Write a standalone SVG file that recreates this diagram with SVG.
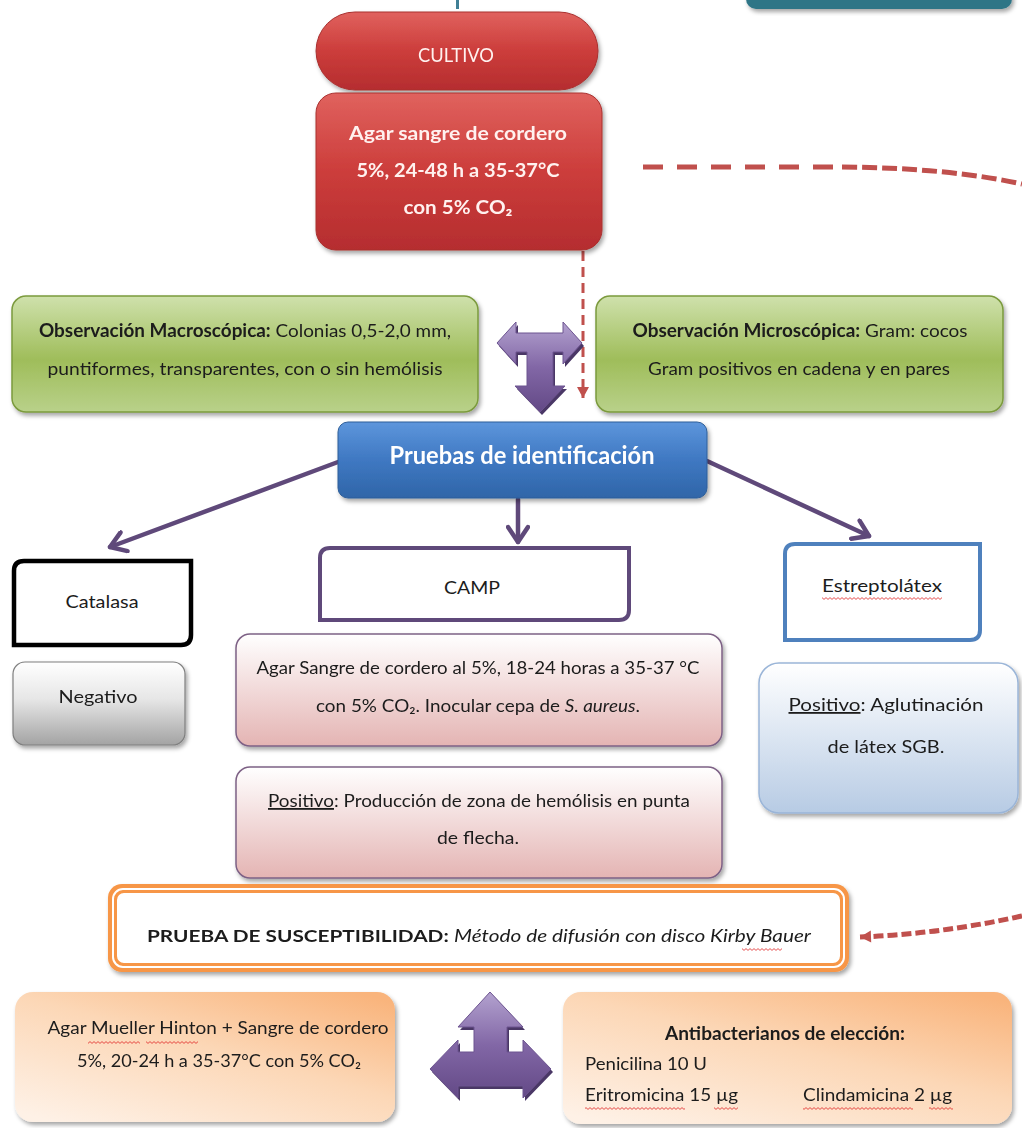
<svg xmlns="http://www.w3.org/2000/svg" width="1022" height="1128" viewBox="0 0 1022 1128">
  <defs>
    <style>
      text { font-family: Lato, "Open Sans", "DejaVu Sans", sans-serif; fill: #1c1c1c; }
      .c { text-anchor: middle; }
      .b { font-weight: bold; }
      .i { font-style: italic; }
      .t18 { font-size: 18px; }
      .t17 { font-size: 17px; }
      .light { fill: #fff1ef; }
      .tp { fill: none; stroke: #5f497a; stroke-width: 4.5; stroke-linecap: round; }
      .dash { fill: none; stroke: #c0504d; stroke-width: 5; }
    </style>
    <filter id="sh" x="-10%" y="-10%" width="125%" height="130%">
      <feDropShadow dx="2" dy="3" stdDeviation="2" flood-color="#000" flood-opacity="0.35"/>
    </filter>
    <linearGradient id="gRed" x1="0" y1="0" x2="0" y2="1">
      <stop offset="0" stop-color="#e0625e"/>
      <stop offset="0.5" stop-color="#cc3d3b"/>
      <stop offset="1" stop-color="#b52d2f"/>
    </linearGradient>
    <linearGradient id="gGreen" x1="0" y1="0" x2="0" y2="1">
      <stop offset="0" stop-color="#cfe1ac"/>
      <stop offset="0.55" stop-color="#9fbd5a"/>
      <stop offset="1" stop-color="#b9d18a"/>
    </linearGradient>
    <linearGradient id="gBlue" x1="0" y1="0" x2="0" y2="1">
      <stop offset="0" stop-color="#5d96dc"/>
      <stop offset="0.5" stop-color="#3f78c2"/>
      <stop offset="1" stop-color="#2f65a8"/>
    </linearGradient>
    <linearGradient id="gGray" x1="0" y1="0" x2="0" y2="1">
      <stop offset="0" stop-color="#ffffff"/>
      <stop offset="0.45" stop-color="#e6e6e6"/>
      <stop offset="1" stop-color="#a3a3a3"/>
    </linearGradient>
    <linearGradient id="gPink" x1="0" y1="0" x2="0" y2="1">
      <stop offset="0" stop-color="#ffffff"/>
      <stop offset="1" stop-color="#e4b4b3"/>
    </linearGradient>
    <linearGradient id="gSky" x1="0" y1="0" x2="0" y2="1">
      <stop offset="0" stop-color="#ffffff"/>
      <stop offset="1" stop-color="#b7cbe4"/>
    </linearGradient>
    <linearGradient id="gPeach" x1="0.1" y1="1" x2="0.9" y2="0">
      <stop offset="0" stop-color="#fef1e6"/>
      <stop offset="0.55" stop-color="#fcd7b6"/>
      <stop offset="1" stop-color="#f9b47c"/>
    </linearGradient>
    <linearGradient id="gPurple" x1="0" y1="0" x2="0" y2="1">
      <stop offset="0" stop-color="#b3a2cf"/>
      <stop offset="0.5" stop-color="#8267a6"/>
      <stop offset="1" stop-color="#634986"/>
    </linearGradient>
    <marker id="openHead" viewBox="-20 -12 24 24" markerWidth="24" markerHeight="24" refX="0" refY="0" orient="auto" markerUnits="userSpaceOnUse">
      <path d="M-15 -10 L0 0 L-15 10" fill="none" stroke="#5f497a" stroke-width="4.5" stroke-linecap="round" stroke-linejoin="round"/>
    </marker>
    <marker id="redHead" viewBox="-12 -8 14 16" markerWidth="14" markerHeight="16" refX="0" refY="0" orient="auto" markerUnits="userSpaceOnUse">
      <path d="M-11 -6 L0 0 L-11 6 Z" fill="#c0504d"/>
    </marker>
    <pattern id="squig" width="4" height="3" patternUnits="userSpaceOnUse">
      <path d="M0 2.4 L2 0.6 L4 2.4" fill="none" stroke="#e02424" stroke-width="0.8"/>
    </pattern>
  </defs>

  <rect width="1022" height="1128" fill="#ffffff"/>

  <!-- partly visible items at the top edge -->
  <g id="top-edge">
    <rect x="456" y="0" width="3" height="9" fill="#3f7f95"/>
    <rect x="746" y="-22" width="266" height="31" rx="10" fill="#2f7586" filter="url(#sh)"/>
  </g>

  <!-- connectors -->
  <g id="connectors">
    <path class="dash" d="M643 167 H842" stroke-dasharray="20 14"/>
    <path class="dash" d="M842 167 Q950 168 1022 184" stroke-dasharray="15 5"/>
    <path class="dash" d="M1022 916 Q940 934 860 937" stroke-dasharray="10 4" marker-end="url(#redHead)"/>
    <path d="M583 251 V398" fill="none" stroke="#c0504d" stroke-width="3" stroke-dasharray="10 6" marker-end="url(#redHead)"/>
    <line class="tp" x1="338" y1="462" x2="110" y2="547" marker-end="url(#openHead)"/>
    <line class="tp" x1="518" y1="499" x2="518" y2="542" marker-end="url(#openHead)"/>
    <line class="tp" x1="707" y1="461" x2="869" y2="536" marker-end="url(#openHead)"/>
  </g>

  <g id="cultivo" filter="url(#sh)">
    <rect x="316" y="12" width="282" height="78" rx="39" fill="url(#gRed)" stroke="#a9302f" stroke-width="1"/>
    <text class="c light" x="456" y="62" font-size="19" textLength="76" lengthAdjust="spacingAndGlyphs">CULTIVO</text>
  </g>

  <g id="agar-sangre" filter="url(#sh)">
    <rect x="316" y="93" width="286" height="157" rx="20" fill="url(#gRed)" stroke="#a9302f" stroke-width="1"/>
    <text class="c b light" x="458" y="140" font-size="19" textLength="218" lengthAdjust="spacingAndGlyphs">Agar sangre de cordero</text>
    <text class="c b light" x="458" y="177" font-size="19" textLength="203" lengthAdjust="spacingAndGlyphs">5%, 24-48 h a 35-37°C</text>
    <text class="c b light" x="458" y="214" font-size="19" textLength="109" lengthAdjust="spacingAndGlyphs">con 5% CO₂</text>
  </g>

  <g id="macro" filter="url(#sh)">
    <rect x="12" y="296" width="466" height="116" rx="14" fill="url(#gGreen)" stroke="#7b9a3d" stroke-width="1.5"/>
    <text class="c t18" x="245" y="337" textLength="412" lengthAdjust="spacingAndGlyphs"><tspan class="b">Observación Macroscópica:</tspan> Colonias 0,5-2,0 mm,</text>
    <text class="c t18" x="245" y="375" textLength="395" lengthAdjust="spacingAndGlyphs">puntiformes, transparentes, con o sin hemólisis</text>
  </g>

  <g id="micro" filter="url(#sh)">
    <rect x="596" y="296" width="407" height="116" rx="14" fill="url(#gGreen)" stroke="#7b9a3d" stroke-width="1.5"/>
    <text class="c t18" x="800" y="337" textLength="335" lengthAdjust="spacingAndGlyphs"><tspan class="b">Observación Microscópica:</tspan> Gram: cocos</text>
    <text class="c t18" x="799" y="375" textLength="302" lengthAdjust="spacingAndGlyphs">Gram positivos en cadena y en pares</text>
  </g>

  <g id="split-arrow-top">
    <polygon points="499,346 518,325 518,336 565,336 565,325 584,346 565,367 565,355 555,355 555,389 567,389 542,415 517,389 529,389 529,355 518,355 518,367" fill="#4a3766"/>
    <polygon points="497,343 516,322 516,333 563,333 563,322 582,343 563,364 563,352 553,352 553,386 565,386 540,412 515,386 527,386 527,352 516,352 516,364" fill="url(#gPurple)" stroke="#6d5490" stroke-width="1"/>
  </g>

  <g id="pruebas" filter="url(#sh)">
    <rect x="338" y="422" width="369" height="76" rx="10" fill="url(#gBlue)" stroke="#2f5f99" stroke-width="1"/>
    <text class="c b" x="522" y="464" font-size="24" fill="#ffffff" style="fill:#ffffff" textLength="265" lengthAdjust="spacingAndGlyphs">Pruebas de identificación</text>
  </g>

  <g id="catalasa">
    <path d="M24 561 H191 V635 Q191 645 181 645 H14 V571 Q14 561 24 561 Z" fill="#ffffff" stroke="#000000" stroke-width="4.5"/>
    <text class="c t18" x="102" y="608" textLength="73" lengthAdjust="spacingAndGlyphs">Catalasa</text>
  </g>

  <g id="camp">
    <path d="M330 548 H629 V610 Q629 620 619 620 H320 V558 Q320 548 330 548 Z" fill="#ffffff" stroke="#5f497a" stroke-width="4"/>
    <text class="c t18" x="472" y="594" textLength="56" lengthAdjust="spacingAndGlyphs">CAMP</text>
  </g>

  <g id="estreptolatex">
    <path d="M795 544 H980 V630 Q980 640 970 640 H785 V554 Q785 544 795 544 Z" fill="#ffffff" stroke="#4f81bd" stroke-width="4"/>
    <text class="c t18" x="882" y="592" textLength="120" lengthAdjust="spacingAndGlyphs">Estreptolátex</text>
  </g>

  <g id="negativo" filter="url(#sh)">
    <rect x="13" y="662" width="172" height="83" rx="12" fill="url(#gGray)" stroke="#7f7f7f" stroke-width="1.2"/>
    <text class="c t18" x="98" y="703" textLength="79" lengthAdjust="spacingAndGlyphs">Negativo</text>
  </g>

  <g id="camp-medio" filter="url(#sh)">
    <rect x="236" y="634" width="486" height="112" rx="14" fill="url(#gPink)" stroke="#7d6185" stroke-width="1.5"/>
    <text class="c t18" x="478" y="674" textLength="443" lengthAdjust="spacingAndGlyphs">Agar Sangre de cordero al 5%, 18-24 horas a 35-37 °C</text>
    <text class="c t18" x="478" y="712" textLength="324" lengthAdjust="spacingAndGlyphs">con 5% CO₂. Inocular cepa de <tspan class="i">S. aureus</tspan>.</text>
  </g>

  <g id="camp-positivo" filter="url(#sh)">
    <rect x="236" y="767" width="486" height="111" rx="14" fill="url(#gPink)" stroke="#7d6185" stroke-width="1.5"/>
    <text class="c t18" x="479" y="807" textLength="422" lengthAdjust="spacingAndGlyphs"><tspan text-decoration="underline">Positivo</tspan>: Producción de zona de hemólisis en punta</text>
    <text class="c t18" x="478" y="844" textLength="82" lengthAdjust="spacingAndGlyphs">de flecha.</text>
  </g>

  <g id="latex-positivo" filter="url(#sh)">
    <rect x="759" y="663" width="259" height="150" rx="20" fill="url(#gSky)" stroke="#9ab5d8" stroke-width="1.5"/>
    <text class="c t18" x="886" y="711" textLength="195" lengthAdjust="spacingAndGlyphs"><tspan text-decoration="underline">Positivo</tspan>: Aglutinación</text>
    <text class="c t18" x="886" y="753" textLength="117" lengthAdjust="spacingAndGlyphs">de  látex SGB.</text>
  </g>

  <g id="susceptibilidad" filter="url(#sh)">
    <rect x="108" y="884" width="741" height="88" rx="14" fill="#f79646"/>
    <rect x="113" y="889" width="731" height="78" rx="10" fill="none" stroke="#ffffff" stroke-width="2"/>
    <rect x="116" y="892" width="725" height="72" rx="8" fill="#ffffff" stroke="#f79646" stroke-width="2"/>
    <text class="t17" x="147" y="942" textLength="664" lengthAdjust="spacingAndGlyphs"><tspan class="b">PRUEBA DE SUSCEPTIBILIDAD:</tspan> <tspan class="i">Método de difusión con disco Kirby Bauer</tspan></text>
  </g>

  <g id="mueller-hinton" filter="url(#sh)">
    <rect x="15" y="992" width="380" height="130" rx="18" fill="url(#gPeach)"/>
    <text class="c t18" x="218" y="1034" textLength="341" lengthAdjust="spacingAndGlyphs">Agar Mueller Hinton + Sangre de cordero</text>
    <text class="c t18" x="219" y="1067" textLength="284" lengthAdjust="spacingAndGlyphs">5%, 20-24 h a 35-37°C con 5% CO₂</text>
  </g>

  <g id="split-arrow-bottom">
    <polygon points="492,995 525,1030 509,1030 509,1055 525,1055 525,1043 553,1072 525,1101 525,1089 460,1089 460,1101 432,1072 460,1043 460,1055 476,1055 476,1030 460,1030" fill="#4a3766"/>
    <polygon points="490,992 523,1027 507,1027 507,1052 523,1052 523,1040 551,1069 523,1098 523,1086 458,1086 458,1098 430,1069 458,1040 458,1052 474,1052 474,1027 458,1027" fill="url(#gPurple)" stroke="#6d5490" stroke-width="1"/>
  </g>

  <g id="antibacterianos" filter="url(#sh)">
    <rect x="563" y="992" width="449" height="132" rx="18" fill="url(#gPeach)"/>
    <text class="c b t18" x="785" y="1040" textLength="240" lengthAdjust="spacingAndGlyphs">Antibacterianos  de elección:</text>
    <text class="t18" x="585" y="1070" textLength="122" lengthAdjust="spacingAndGlyphs">Penicilina 10 U</text>
    <text class="t18" x="585" y="1101" textLength="153" lengthAdjust="spacingAndGlyphs">Eritromicina 15 µg</text>
    <text class="t18" x="803" y="1101" textLength="149" lengthAdjust="spacingAndGlyphs">Clindamicina 2 µg</text>
  </g>

  <!-- proofing marks under flagged words -->
  <g id="spell-marks" fill="url(#squig)">
    <rect x="822" y="597" width="120" height="3"/>
    <rect x="88" y="1041" width="52" height="3"/>
    <rect x="146" y="1041" width="52" height="3"/>
    <rect x="742" y="948" width="40" height="3"/>
    <rect x="585" y="1107" width="100" height="3"/>
    <rect x="714" y="1107" width="24" height="3"/>
    <rect x="803" y="1107" width="110" height="3"/>
    <rect x="929" y="1107" width="24" height="3"/>
  </g>
</svg>
